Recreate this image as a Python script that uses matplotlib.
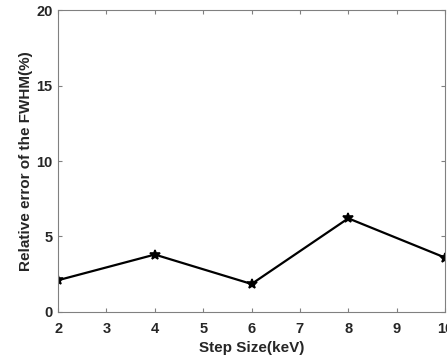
import matplotlib
matplotlib.use("Agg")
import matplotlib.pyplot as plt

step_size = [2, 4, 6, 8, 10]
rel_error = [2.1, 3.8, 1.85, 6.2, 3.6]

plt.rcParams['font.family'] = ['Liberation Sans', 'DejaVu Sans']
plt.rcParams['font.weight'] = 'bold'

fig = plt.figure(figsize=(4.47, 3.61), dpi=100)
ax = fig.add_axes([0.13, 0.136, 0.8655, 0.836])

ax.plot(step_size, rel_error, color='black', linewidth=1.6,
        marker='*', markersize=7, markeredgewidth=1.2)

ax.set_xlim(2, 10)
ax.set_ylim(0, 20)
ax.set_xticks(range(2, 11))
ax.set_yticks([0, 5, 10, 15, 20])

for s in ax.spines.values():
    s.set_color('#808080')
    s.set_linewidth(0.8)
ax.tick_params(direction='in', top=True, right=True, length=3,
               color='#808080', labelsize=10.5, labelcolor='#262626')
ax.tick_params(axis='x', pad=7)
ax.tick_params(axis='y', pad=4)

ax.set_xlabel('Step Size(keV)', fontsize=11, fontweight='bold', color='#262626', labelpad=4)
ax.set_ylabel('Relative error of the FWHM(%)', fontsize=11, fontweight='bold', color='#262626', labelpad=2)

fig.savefig('out.png', dpi=100)
